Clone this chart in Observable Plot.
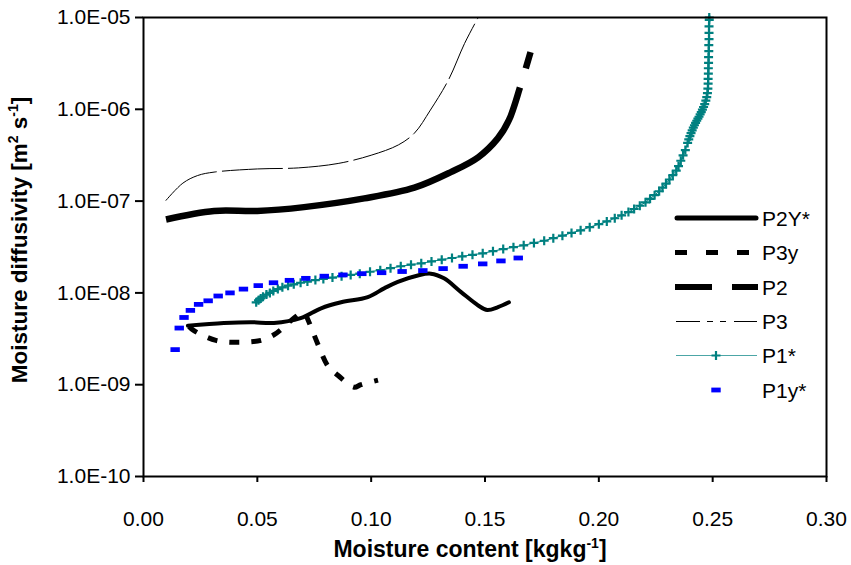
<!DOCTYPE html>
<html>
<head>
<meta charset="utf-8">
<script src="https://cdn.jsdelivr.net/npm/d3@7"></script>
<script src="https://cdn.jsdelivr.net/npm/@observablehq/plot@0.6"></script>
<style>
  html, body { margin: 0; padding: 0; background: #fff; }
  #chart { width: 851px; height: 565px; }
</style>
</head>
<body>
<div id="chart"></div>
<script>
// ---- tick values and labels ----
const xTicks = [0, 0.05, 0.10, 0.15, 0.20, 0.25, 0.30];
const xTickLabels = ["0.00", "0.05", "0.10", "0.15", "0.20", "0.25", "0.30"];
const yTicks = [1e-10, 1e-9, 1e-8, 1e-7, 1e-6, 1e-5];
const yTickLabels = ["1.0E-10", "1.0E-09", "1.0E-08", "1.0E-07", "1.0E-06", "1.0E-05"];

// ---- series names (legend order) ----
const seriesNames = ["P2Y*", "P3y", "P2", "P3", "P1*", "P1y*"];

// ---- P2Y* ----
const p2yX = [0.0195, 0.0353, 0.0472, 0.0573, 0.069, 0.078, 0.0868, 0.0985, 0.1057, 0.1117, 0.1205, 0.1262, 0.132, 0.1395, 0.147, 0.151, 0.1557, 0.1605];
const p2yD = [4.4e-9, 4.7e-9, 4.8e-9, 4.7e-9, 5.3e-9, 6.8e-9, 7.9e-9, 9.0e-9, 1.12e-8, 1.32e-8, 1.55e-8, 1.62e-8, 1.44e-8, 1.02e-8, 7.3e-9, 6.5e-9, 7.0e-9, 7.9e-9];

// ---- P3y ----
const p3yX = [0.020, 0.022, 0.0318, 0.042, 0.0516, 0.0573, 0.061, 0.066, 0.0705, 0.0718, 0.0765, 0.081, 0.0855, 0.0925, 0.0955, 0.103];
const p3yD = [4.3e-9, 3.9e-9, 3.04e-9, 2.9e-9, 3.04e-9, 3.5e-9, 4.1e-9, 5.3e-9, 6.2e-9, 5.4e-9, 2.8e-9, 1.6e-9, 1.26e-9, 9.4e-10, 1.0e-9, 1.12e-9];

// ---- P2 ----
const p2X = [0.0099, 0.031, 0.050, 0.0705, 0.097, 0.119, 0.135, 0.147, 0.1557, 0.1605, 0.1654, 0.170];
const p2D = [6.3e-8, 7.8e-8, 7.8e-8, 8.6e-8, 1.07e-7, 1.4e-7, 2.07e-7, 3.0e-7, 4.85e-7, 7.6e-7, 1.74e-6, 4.2e-6];

// ---- P3 ----
const p3X = [0.0099, 0.0173, 0.0238, 0.031, 0.050, 0.068, 0.0855, 0.100, 0.112, 0.119, 0.126, 0.134, 0.141, 0.147];
const p3D = [1.02e-7, 1.57e-7, 1.9e-7, 2.07e-7, 2.24e-7, 2.3e-7, 2.57e-7, 3.16e-7, 4.1e-7, 5.5e-7, 9.8e-7, 2.1e-6, 5.2e-6, 1.0e-5];

// ---- P1* ----
const p1X = [0.0495, 0.0505, 0.0515, 0.0525, 0.054, 0.0555, 0.057, 0.059, 0.061, 0.0635, 0.066, 0.069, 0.072, 0.0755, 0.079, 0.083, 0.087, 0.091, 0.095, 0.0995,
  0.104, 0.1085, 0.113, 0.1175, 0.122, 0.1265, 0.131, 0.1355, 0.140, 0.1445, 0.149, 0.1535, 0.158, 0.1625, 0.167, 0.1715, 0.176, 0.180, 0.184, 0.188,
  0.192, 0.196, 0.200, 0.2035, 0.207, 0.210, 0.213, 0.2155, 0.218, 0.2205, 0.2225, 0.2245, 0.2265, 0.228, 0.2295, 0.231, 0.2325, 0.234, 0.235, 0.236,
  0.237, 0.238, 0.239, 0.2395, 0.240, 0.2405, 0.241, 0.2415, 0.242, 0.2425, 0.243, 0.2435, 0.244, 0.2445, 0.245, 0.2455, 0.246, 0.2465, 0.247, 0.2474,
  0.2477, 0.2479, 0.248, 0.248, 0.2481, 0.2481, 0.2482, 0.2482, 0.2483, 0.2483, 0.2484, 0.2484, 0.2484, 0.2485, 0.2485];
const p1D = [7.9e-9, 8.3e-9, 8.7e-9, 9.1e-9, 9.6e-9, 1.0e-8, 1.05e-8, 1.1e-8, 1.15e-8, 1.2e-8, 1.24e-8, 1.29e-8, 1.33e-8, 1.38e-8, 1.42e-8, 1.47e-8, 1.52e-8, 1.57e-8, 1.62e-8, 1.7e-8,
  1.77e-8, 1.86e-8, 1.95e-8, 2.03e-8, 2.1e-8, 2.2e-8, 2.3e-8, 2.4e-8, 2.5e-8, 2.6e-8, 2.7e-8, 2.85e-8, 3.0e-8, 3.15e-8, 3.3e-8, 3.5e-8, 3.7e-8, 3.95e-8, 4.2e-8, 4.5e-8,
  4.8e-8, 5.2e-8, 5.6e-8, 6.0e-8, 6.5e-8, 7.0e-8, 7.6e-8, 8.2e-8, 8.9e-8, 9.7e-8, 1.06e-7, 1.16e-7, 1.28e-7, 1.4e-7, 1.55e-7, 1.72e-7, 1.92e-7, 2.15e-7, 2.4e-7, 2.75e-7,
  3.15e-7, 3.6e-7, 4.3e-7, 4.7e-7, 5.1e-7, 5.5e-7, 5.9e-7, 6.3e-7, 6.7e-7, 7.1e-7, 7.5e-7, 7.9e-7, 8.3e-7, 8.8e-7, 9.3e-7, 9.9e-7, 1.06e-6, 1.14e-6, 1.24e-6, 1.36e-6,
  1.5e-6, 1.68e-6, 1.9e-6, 2.15e-6, 2.45e-6, 2.8e-6, 3.2e-6, 3.7e-6, 4.3e-6, 5.0e-6, 5.8e-6, 6.8e-6, 8.0e-6, 9.4e-6, 1.0e-5];

// ---- P1y* ----
const p1yX = [0.0139, 0.0157, 0.0178, 0.0206, 0.0242, 0.0284, 0.0328, 0.038, 0.0439, 0.0504, 0.0571, 0.0641, 0.0713, 0.0794, 0.0876, 0.0959, 0.1046, 0.1136, 0.1227, 0.1316, 0.1404, 0.149, 0.157, 0.1646];
const p1yD = [2.41e-9, 4.14e-9, 5.4e-9, 6.45e-9, 7.5e-9, 8.2e-9, 9.25e-9, 1.0e-8, 1.1e-8, 1.2e-8, 1.29e-8, 1.37e-8, 1.44e-8, 1.52e-8, 1.57e-8, 1.62e-8, 1.66e-8, 1.71e-8, 1.75e-8, 1.84e-8, 1.95e-8, 2.07e-8, 2.23e-8, 2.4e-8];

const rows = (xs, ds) => xs.map((x, i) => ({x, d: ds[i]}));
const labelFor = (ticks, labels) => (v) => {
  let best = 0;
  ticks.forEach((t, i) => { if (Math.abs(Math.log10(t) - Math.log10(v)) < Math.abs(Math.log10(ticks[best]) - Math.log10(v))) best = i; });
  return labels[best];
};
const xLabelFor = (v) => xTickLabels[xTicks.findIndex((t) => Math.abs(t - v) < 1e-9)];

const TEAL = "#008080";
const BLUE = "#0000ff";
const FONT = "'Liberation Sans', Arial, sans-serif";

const plusSymbol = {draw(ctx) { ctx.moveTo(-4.5, 0); ctx.lineTo(4.5, 0); ctx.moveTo(0, -4.5); ctx.lineTo(0, 4.5); }};
const dashSymbol = {draw(ctx) { ctx.rect(-4.7, -2.4, 9.4, 4.8); }};

const plot = Plot.plot({
  width: 851,
  height: 565,
  marginLeft: 143,
  marginRight: 25,
  marginTop: 17,
  marginBottom: 89,
  style: {fontFamily: FONT, fontSize: "21px", background: "#fff", color: "#000"},
  x: {domain: [0, 0.30]},
  y: {type: "log", domain: [1e-10, 1e-5]},
  marks: [
    Plot.axisX({ticks: xTicks, tickFormat: xLabelFor, tickSize: 6, tickPadding: 29, strokeWidth: 2, label: null, fontSize: 21}),
    Plot.axisY({ticks: yTicks, tickFormat: labelFor(yTicks, yTickLabels), tickSize: 8, tickPadding: 5, strokeWidth: 2, label: null, fontSize: 21}),
    Plot.line(rows(p2yX, p2yD), {x: "x", y: "d", stroke: "black", strokeWidth: 4, curve: "catmull-rom", clip: true}),
    Plot.line(rows(p3yX, p3yD), {x: "x", y: "d", stroke: "black", strokeWidth: 5, strokeDasharray: "10,12", strokeLinecap: "butt", curve: "catmull-rom", clip: true}),
    Plot.line(rows(p2X, p2D), {x: "x", y: "d", stroke: "black", strokeWidth: 6.5, strokeDasharray: "405,20", strokeLinecap: "butt", curve: "catmull-rom", clip: true}),
    Plot.line(rows(p3X, p3D), {x: "x", y: "d", stroke: "black", strokeWidth: 1, strokeDasharray: "60,6", curve: "catmull-rom", clip: true}),
    Plot.line(rows(p1X, p1D), {x: "x", y: "d", stroke: TEAL, strokeWidth: 1, clip: true}),
    Plot.dot(rows(p1X, p1D), {x: "x", y: "d", symbol: plusSymbol, stroke: TEAL, fill: "none", strokeWidth: 2.2, r: 4}),
    Plot.dot(rows(p1yX, p1yD), {x: "x", y: "d", symbol: dashSymbol, fill: BLUE, stroke: "none", r: 4}),
    Plot.frame({stroke: "black", strokeWidth: 2})
  ]
});

const svg = d3.select(plot);

// ---- legend ----
const legendY = [218, 252.5, 287, 321.5, 355.5, 390];
const lg = svg.append("g").attr("font-family", FONT).attr("font-size", 21).attr("text-anchor", "start");
const x0 = 675, x1 = 758;
seriesNames.forEach((name, i) => {
  const y = legendY[i];
  if (name === "P2Y*") lg.append("line").attr("x1", x0 + 2).attr("x2", x1 - 2).attr("y1", y).attr("y2", y).attr("stroke", "black").attr("stroke-width", 5).attr("stroke-linecap", "round");
  if (name === "P3y") lg.append("line").attr("x1", x0).attr("x2", x1).attr("y1", y).attr("y2", y).attr("stroke", "black").attr("stroke-width", 5).attr("stroke-dasharray", "12,19");
  if (name === "P2") lg.append("line").attr("x1", x0).attr("x2", x1).attr("y1", y).attr("y2", y).attr("stroke", "black").attr("stroke-width", 6).attr("stroke-dasharray", "37,20");
  if (name === "P3") lg.append("line").attr("x1", x0 + 1).attr("x2", x1 - 1).attr("y1", y).attr("y2", y).attr("stroke", "black").attr("stroke-width", 1).attr("stroke-dasharray", "24,7,6,7,6,8");
  if (name === "P1*") {
    lg.append("line").attr("x1", x0 + 1).attr("x2", x1 - 1).attr("y1", y).attr("y2", y).attr("stroke", TEAL).attr("stroke-opacity", 0.7).attr("stroke-width", 1.2);
    lg.append("path").attr("d", `M${716 - 4.5},${y} h9 M716,${y - 4.5} v9`).attr("stroke", TEAL).attr("stroke-width", 2.2).attr("fill", "none");
  }
  if (name === "P1y*") lg.append("rect").attr("x", 716 - 4.7).attr("y", y - 2.4).attr("width", 9.4).attr("height", 4.8).attr("fill", BLUE);
  lg.append("text").attr("x", 762).attr("y", y).attr("dy", "0.36em").text(name);
});

// ---- axis titles with superscripts ----
const xt = svg.append("text").attr("x", 470).attr("y", 557).attr("text-anchor", "middle")
  .attr("font-family", FONT).attr("font-size", 23).attr("font-weight", "bold");
xt.append("tspan").text("Moisture content [kgkg");
xt.append("tspan").attr("font-size", 14).attr("dy", -9).text("-1");
xt.append("tspan").attr("dy", 9).text("]");

const yt = svg.append("text").attr("transform", "translate(27,240) rotate(-90)").attr("text-anchor", "middle")
  .attr("font-family", FONT).attr("font-size", 22.5).attr("font-weight", "bold");
yt.append("tspan").text("Moisture diffusivity [m");
yt.append("tspan").attr("font-size", 14).attr("dy", -9).text("2");
yt.append("tspan").attr("dy", 9).text(" s");
yt.append("tspan").attr("font-size", 14).attr("dy", -9).text("-1");
yt.append("tspan").attr("dy", 9).text("]");

document.getElementById("chart").appendChild(plot);
</script>
</body>
</html>
